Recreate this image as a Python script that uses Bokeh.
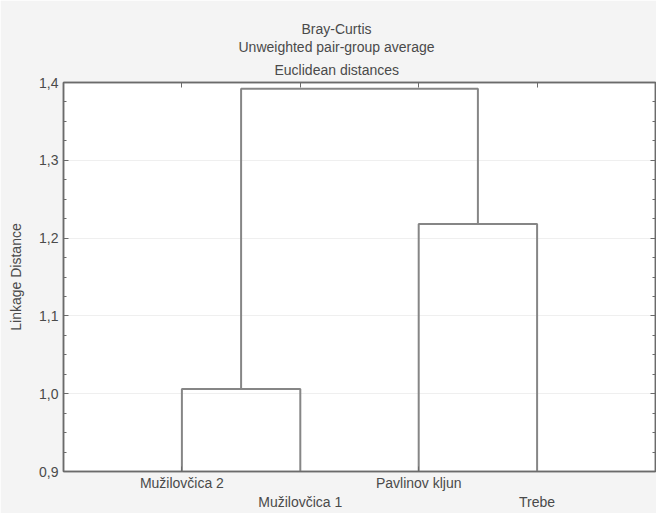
from bokeh.plotting import figure
from bokeh.models import (Range1d, LinearAxis, FixedTicker, Title, CustomJSTickFormatter)
from bokeh.embed import file_html
from bokeh.resources import INLINE
import numpy as np

# ---- data ----
title_lines = ["Bray-Curtis", "Unweighted pair-group average", "Euclidean distances"]
leaf_names = ["Mužilovčica 2", "Mužilovčica 1", "Pavlinov kljun", "Trebe"]
merge_left = [0, 2, 4]      # node ids: 0-3 leaves, 4+ clusters in merge order
merge_right = [1, 3, 5]
merge_height = [1.006, 1.218, 1.392]
y_ticks = [0.9, 1.0, 1.1, 1.2, 1.3, 1.4]
y_tick_labels = ["0,9", "1,0", "1,1", "1,2", "1,3", "1,4"]
y_label = "Linkage Distance"

FONT = "Liberation Sans"
TXT = "#4a4a4a"
LINE = "#6b6b6b"
DEND = "#868686"

p = figure(width=656, height=513, output_backend="svg", toolbar_location=None,
           x_range=Range1d(0, 5), y_range=Range1d(0.9, 1.4),
           min_border_left=63, min_border_right=1, min_border_top=82, min_border_bottom=42)
p.border_fill_color = "#f4f4f4"
p.background_fill_color = "white"
p.outline_line_color = LINE
p.outline_line_width = 1.5

xb = p.below[0]
yl = p.left[0]

# dendrogram
pos = {i: i + 1 for i in range(len(leaf_names))}
hgt = {i: 0.9 for i in range(len(leaf_names))}
xs, ys = [], []
for k, (a, b, H) in enumerate(zip(merge_left, merge_right, merge_height)):
    xs.append([pos[a], pos[a], pos[b], pos[b]])
    ys.append([hgt[a], H, H, hgt[b]])
    node = len(leaf_names) + k
    pos[node] = (pos[a] + pos[b]) / 2
    hgt[node] = H
p.multi_line(xs=xs, ys=ys, line_color=DEND, line_width=2)

# grids
p.xgrid.visible = False
p.ygrid.ticker = FixedTicker(ticks=y_ticks)
p.ygrid.grid_line_color = "#efefef"

minor = list(np.round(np.arange(0.9, 1.4001, 0.025), 3))
blank = CustomJSTickFormatter(code="return '';")

def style_y(ax, labels=True):
    ax.ticker = FixedTicker(ticks=y_ticks, minor_ticks=minor)
    ax.axis_line_color = LINE
    ax.axis_line_width = 1.5
    ax.major_tick_in = 5
    ax.major_tick_out = 0
    ax.minor_tick_in = 3
    ax.minor_tick_out = 0
    ax.major_tick_line_color = LINE
    ax.minor_tick_line_color = LINE
    if labels:
        ax.major_label_overrides = {t: l for t, l in zip(y_ticks, y_tick_labels)}
        ax.major_label_text_font = FONT
        ax.major_label_text_font_size = "14px"
        ax.major_label_text_color = TXT
        ax.major_label_standoff = 5
    else:
        ax.formatter = blank
        ax.major_label_standoff = 0

style_y(yl)
yl.axis_label = y_label
yl.axis_label_text_font = FONT
yl.axis_label_text_font_size = "14px"
yl.axis_label_text_font_style = "normal"
yl.axis_label_text_color = TXT
yl.axis_label_standoff = 12

yr = LinearAxis()
style_y(yr, labels=False)
p.add_layout(yr, "right")

# top axis ticks at leaf positions
xt = LinearAxis(ticker=FixedTicker(ticks=[1, 2, 3, 4], minor_ticks=[]), formatter=blank)
xt.axis_line_color = LINE
xt.axis_line_width = 1.5
xt.major_tick_in = 5
xt.major_tick_out = 0
xt.major_tick_line_color = LINE
xt.major_label_standoff = 0
p.add_layout(xt, "above")

# bottom axes: staggered leaf labels
leaf_pos = list(range(1, len(leaf_names) + 1))
t1 = leaf_pos[0::2]
xb.ticker = FixedTicker(ticks=t1, minor_ticks=[])
xb.major_label_overrides = {t: leaf_names[t - 1] for t in t1}
xb.axis_line_color = LINE
xb.axis_line_width = 1.5
xb.major_tick_in = 5
xb.major_tick_out = 0
xb.major_tick_line_color = LINE
xb.major_label_standoff = 3
xb.major_label_text_font = FONT
xb.major_label_text_font_size = "14px"
xb.major_label_text_color = TXT

t2 = leaf_pos[1::2]
xb2 = LinearAxis(ticker=FixedTicker(ticks=t2, minor_ticks=[]))
xb2.major_label_overrides = {t: leaf_names[t - 1] for t in t2}
xb2.axis_line_color = None
xb2.major_tick_line_color = None
xb2.minor_tick_line_color = None
xb2.major_tick_in = 0
xb2.major_tick_out = 0
xb2.major_label_standoff = 0
xb2.major_label_text_font = FONT
xb2.major_label_text_font_size = "14px"
xb2.major_label_text_color = TXT
p.add_layout(xb2, "below")

# title lines (stacked above the frame; first added is closest to the frame)
title_offsets = [238, 175, 211]   # left offsets (px) so lines centre near x≈344
title_standoffs = [0, 0, 10]
for txt, off, so in reversed(list(zip(title_lines, title_offsets, title_standoffs))):
    p.add_layout(Title(text=txt, align="left", offset=off, standoff=so,
                       text_font=FONT, text_font_size="14px", text_font_style="normal",
                       text_color=TXT), "above")

open("out.html", "w").write(file_html(p, INLINE))
